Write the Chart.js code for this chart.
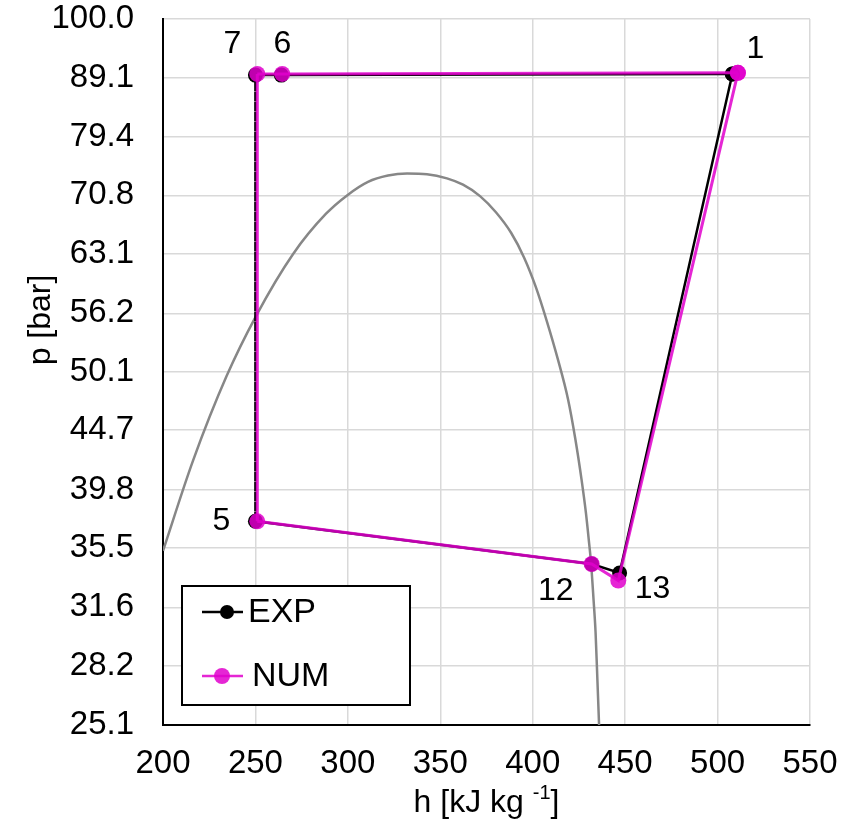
<!DOCTYPE html>
<html>
<head>
<meta charset="utf-8">
<script src="https://cdn.jsdelivr.net/npm/chart.js@4.4.1/dist/chart.umd.min.js"></script>
<style>
  html, body { margin: 0; padding: 0; background: #fff; }
  #wrap { width: 843px; height: 830px; }
</style>
</head>
<body>
<div id="wrap"><canvas id="chart1" width="843" height="830"></canvas></div>
<script>
// P-H DIAGRAM, EXPERIMENTAL VS NUMERICAL CYCLE

// state points, in cycle order 1 -> 6 -> 7 -> 5 -> 12 -> 13 -> back to 1
let pointNames = ["1", "6", "7", "5", "12", "13"];
let expH = [508, 264.0, 250.0, 250.0, 431.9, 447.0, 508];
let expP = [89.8, 89.6, 89.6, 37.4, 34.4, 33.8, 89.8];
let numH = [511, 264.5, 251.0, 251.0, 431.9, 446.3, 511];
let numP = [90.0, 89.8, 89.8, 37.4, 34.4, 33.3, 90.0];

// saturation dome (grey curve)
let domeH = [200, 216.2, 234.4, 250.3, 270.3, 288.2, 300.1, 310.9, 321.7, 332.0, 342.8, 353.6, 362.3, 371.5, 380.1, 388.3, 395.3, 401.8, 407.7, 413.7, 419.1, 423.1, 426.4, 428.8, 430.3, 431.6, 432.9, 434.0, 435.0, 435.9];
let domeP = [35.3, 42.1, 49.7, 55.9, 63.1, 68.3, 70.9, 72.7, 73.6, 73.9, 73.8, 73.2, 72.3, 70.7, 68.5, 65.8, 62.7, 59.1, 55.3, 51.3, 47.5, 43.9, 40.6, 38.0, 36.1, 34.4, 32.1, 30.1, 27.4, 25.1];

// axis ticks
let xTicks = [200, 250, 300, 350, 400, 450, 500, 550];
let yTicks = [25.1, 28.2, 31.6, 35.5, 39.8, 44.7, 50.1, 56.2, 63.1, 70.8, 79.4, 89.1, 100.0];

let FONT = "'Liberation Sans', Arial, sans-serif";
let PINK = "rgba(225, 0, 205, 0.85)";

function toXY(hs, ps) {
	let pts = [];
	for (let i = 0; i < hs.length; i++) {
		pts.push({x: hs[i], y: ps[i]});
	}
	return pts;
}

// dashed segment = expansion 7 -> 5
function dashExpansion(ctx) {
	return ctx.p0DataIndex === 2 ? [6, 4] : undefined;
}
function dashShift(ctx) {
	return ctx.p0DataIndex === 2 ? 5 : 0;
}

// labels 1, 6, 7 ... next to the EXP points
let labelPlugin = {
	id: "stateLabels",
	afterDatasetsDraw: function(chart) {
		let offsets = [[23, -25], [1, -31], [-23, -31], [-34, 0], [-36, 27], [33, 16]];
		let meta = chart.getDatasetMeta(1);
		let c = chart.ctx;
		c.save();
		c.font = "32px " + FONT;
		c.fillStyle = "#000";
		c.textAlign = "center";
		c.textBaseline = "middle";
		for (let i = 0; i < pointNames.length; i++) {
			let el = meta.data[i];
			c.fillText(pointNames[i], el.x + offsets[i][0], el.y + offsets[i][1]);
		}
		c.restore();
	}
};

// boxed legend in the lower left corner of the plot
let boxLegend = {
	id: "boxLegend",
	afterDraw: function(chart) {
		let a = chart.chartArea;
		let c = chart.ctx;
		let left = a.left + 19, top = a.bottom - 139, w = 228, h = 119;
		c.save();
		c.fillStyle = "#fff";
		c.fillRect(left, top, w, h);
		c.strokeStyle = "#000";
		c.lineWidth = 2;
		c.strokeRect(left, top, w, h);

		let rows = [
			{ds: chart.data.datasets[1], y: top + 26, mx: left + 45, r: 7, tx: left + 66},
			{ds: chart.data.datasets[0], y: top + 90, mx: left + 40, r: 8, tx: left + 70}
		];
		rows.forEach(function(row) {
			c.strokeStyle = row.ds.borderColor;
			c.lineWidth = 2.5;
			c.beginPath();
			c.moveTo(left + 20, row.y);
			c.lineTo(left + 61, row.y);
			c.stroke();
			c.fillStyle = row.ds.pointBackgroundColor;
			c.beginPath();
			c.arc(row.mx, row.y, row.r, 0, Math.PI * 2);
			c.fill();
			c.fillStyle = "#000";
			c.font = "34px " + FONT;
			c.textAlign = "left";
			c.textBaseline = "middle";
			c.fillText(row.ds.label, row.tx, row.y + 1);
		});
		c.restore();
	}
};

// axis titles (x title has a superscript)
let axisTitles = {
	id: "axisTitles",
	afterDraw: function(chart) {
		let a = chart.chartArea;
		let c = chart.ctx;
		c.save();
		c.fillStyle = "#000";
		c.textBaseline = "alphabetic";

		c.save();
		c.translate(50, 320);
		c.rotate(-Math.PI / 2);
		c.font = "32px " + FONT;
		c.textAlign = "center";
		c.fillText("p [bar]", 0, 0);
		c.restore();

		let main = "h [kJ kg ", sup = "-1", end = "]";
		c.font = "32px " + FONT;
		let w1 = c.measureText(main).width, w3 = c.measureText(end).width;
		c.font = "20px " + FONT;
		let w2 = c.measureText(sup).width;
		let x0 = (a.left + a.right) / 2 - (w1 + w2 + w3) / 2;
		let base = 812;
		c.textAlign = "left";
		c.font = "32px " + FONT;
		c.fillText(main, x0, base);
		c.font = "20px " + FONT;
		c.fillText(sup, x0 + w1, base - 13);
		c.font = "32px " + FONT;
		c.fillText(end, x0 + w1 + w2, base);
		c.restore();
	}
};

let ctx1 = document.getElementById("chart1");

let myChart1 = new Chart(ctx1, {
	type: "scatter",
	data: {
		datasets: [{
			label: "NUM",
			data: toXY(numH, numP),
			showLine: true,
			borderColor: PINK,
			backgroundColor: PINK,
			pointBackgroundColor: PINK,
			pointBorderWidth: 0,
			pointRadius: 8,
			borderWidth: 3,
			tension: 0,
			segment: {borderDash: dashExpansion, borderDashOffset: dashShift},
			order: 1
		}, {
			label: "EXP",
			data: toXY(expH, expP),
			showLine: true,
			borderColor: "#000000",
			backgroundColor: "#000000",
			pointBackgroundColor: "#000000",
			pointBorderWidth: 0,
			pointRadius: 7.5,
			borderWidth: 2.5,
			tension: 0,
			segment: {borderDash: dashExpansion},
			order: 2
		}, {
			label: "dome",
			data: toXY(domeH, domeP),
			showLine: true,
			borderColor: "#878787",
			borderWidth: 2.5,
			pointRadius: 0,
			cubicInterpolationMode: "monotone",
			order: 3
		}]
	},
	options: {
		responsive: false,
		animation: false,
		devicePixelRatio: 1,
		layout: {padding: 0},
		plugins: {
			legend: {display: false},
			tooltip: {enabled: false}
		},
		scales: {
			x: {
				type: "linear",
				min: 200,
				max: 550,
				afterBuildTicks: function(scale) {
					scale.ticks = xTicks.map(function(v) { return {value: v}; });
				},
				afterFit: function(scale) {
					scale.height = 105;
					scale.paddingLeft = 0;
					scale.paddingRight = 33;
				},
				ticks: {
					color: "#000",
					font: {family: FONT, size: 33, lineHeight: 1},
					padding: 22,
					maxRotation: 0,
					autoSkip: false
				},
				grid: {color: "#d9d9d9", lineWidth: 1.5, drawTicks: false},
				border: {color: "#000", width: 2}
			},
			y: {
				type: "logarithmic",
				min: 25.1,
				max: 100,
				afterBuildTicks: function(scale) {
					scale.ticks = yTicks.map(function(v) { return {value: v}; });
				},
				afterFit: function(scale) {
					scale.width = 163;
					scale.paddingTop = 19;
					scale.paddingBottom = 0;
				},
				ticks: {
					color: "#000",
					font: {family: FONT, size: 33, lineHeight: 1},
					padding: 29,
					autoSkip: false,
					callback: function(v) { return Number(v).toFixed(1); }
				},
				grid: {color: "#d9d9d9", lineWidth: 1.5, drawTicks: false},
				border: {color: "#000", width: 2}
			}
		}
	},
	plugins: [labelPlugin, boxLegend, axisTitles]
});
</script>
</body>
</html>
